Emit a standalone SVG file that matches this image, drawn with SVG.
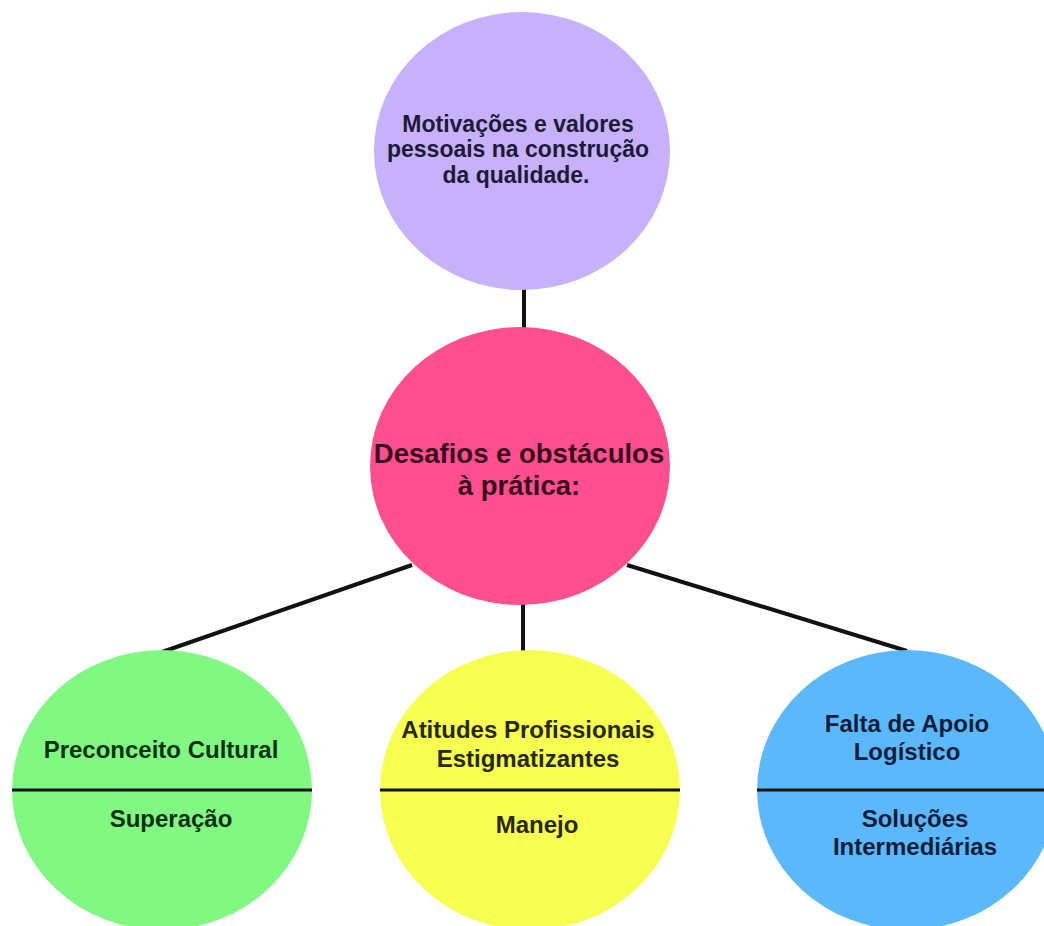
<svg xmlns="http://www.w3.org/2000/svg" width="1044" height="926" viewBox="0 0 1044 926">
<style>
.t{font-family:"Liberation Sans",Arial,sans-serif;font-weight:bold;text-anchor:middle}
.conn{stroke:#111;stroke-width:4;fill:none}
.div{stroke:#111;stroke-width:3}
</style>
<rect width="1044" height="926" fill="#ffffff"/>
<g id="connectors">
<line class="conn" x1="524" y1="288" x2="524" y2="330"/>
<line class="conn" x1="412" y1="565" x2="162" y2="652"/>
<line class="conn" x1="523" y1="603" x2="523" y2="654"/>
<line class="conn" x1="627" y1="565" x2="907" y2="651"/>
</g>
<g id="motivacoes">
<ellipse cx="522" cy="151" rx="148" ry="139" fill="#C7B1FA"/>
<text class="t" font-size="23" fill="#1c1a38"><tspan x="518" y="132">Motivações e valores</tspan><tspan x="518" y="157">pessoais na construção</tspan><tspan x="516" y="183">da qualidade.</tspan></text>
</g>
<g id="desafios">
<ellipse cx="520" cy="466" rx="150" ry="139" fill="#FF4F8E"/>
<text class="t" font-size="27.5" fill="#3a0a1c"><tspan x="519" y="463">Desafios e obstáculos</tspan><tspan x="519" y="495">à prática:</tspan></text>
</g>
<g id="preconceito">
<ellipse cx="162" cy="790" rx="150" ry="140" fill="#80F882"/>
<line class="div" x1="12" y1="790" x2="312" y2="790"/>
<text class="t" font-size="24" fill="#0a300e"><tspan x="161" y="758">Preconceito Cultural</tspan><tspan x="171" y="827">Superação</tspan></text>
</g>
<g id="atitudes">
<ellipse cx="530" cy="790" rx="150" ry="140" fill="#F7FF50"/>
<line class="div" x1="380" y1="790" x2="680" y2="790"/>
<text class="t" font-size="24" fill="#28280a"><tspan x="528" y="738">Atitudes Profissionais</tspan><tspan x="528" y="767">Estigmatizantes</tspan><tspan x="537" y="833">Manejo</tspan></text>
</g>
<g id="falta">
<ellipse cx="907" cy="790" rx="150" ry="140" fill="#5BB8FA"/>
<line class="div" x1="757" y1="790" x2="1044" y2="790"/>
<text class="t" font-size="24" fill="#0a1e3c"><tspan x="907" y="732">Falta de Apoio</tspan><tspan x="907" y="760">Logístico</tspan><tspan x="915" y="827">Soluções</tspan><tspan x="915" y="855">Intermediárias</tspan></text>
</g>
</svg>
